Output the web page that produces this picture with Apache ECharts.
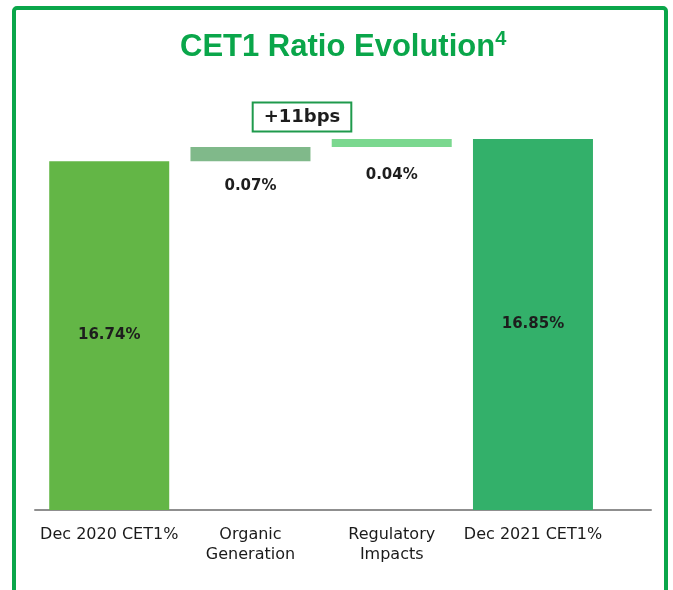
<!DOCTYPE html>
<html>
<head>
<meta charset="utf-8">
<script src="https://cdn.jsdelivr.net/npm/echarts@6/dist/echarts.min.js"></script>
<style>
  html, body { margin: 0; padding: 0; background: #fff; }
  #main { width: 673px; height: 590px; }
</style>
</head>
<body>
<div id="main"></div>
<script>
// waterfall data
var categories = ['Dec 2020 CET1%', 'Organic\nGeneration', 'Regulatory\nImpacts', 'Dec 2021 CET1%'];
var values = [16.74, 0.07, 0.04, 16.85];
var isTotal = [true, false, false, true];
var changeLabel = '+11bps';

var barColors = ['#63b646', '#80b98a', '#7bd88f', '#33b06a'];
var green = '#0aa64a';

// invisible base for the floating bars
var base = [];
var running = 0;
for (var i = 0; i < values.length; i++) {
  if (isTotal[i]) {
    base.push(0);
    running = values[i];
  } else {
    base.push(running);
    running = +(running + values[i]).toFixed(2);
  }
}

var labelDist = [0, 17, 21, 0];
var barData = values.map(function (v, i) {
  return {
    value: v,
    itemStyle: { color: barColors[i] },
    label: isTotal[i] ? { position: 'inside' } : { position: 'bottom', distance: labelDist[i] }
  };
});

var chart = echarts.init(document.getElementById('main'));
chart.setOption({
  animation: false,
  title: {
    text: '{t|CET1 Ratio Evolution}{s|4}',
    left: 175,
    top: 24,
    textStyle: {
      rich: {
        t: { fontFamily: 'Liberation Sans', fontWeight: 'bold', fontSize: 31, color: green, lineHeight: 36 },
        s: { fontFamily: 'Liberation Sans', fontWeight: 'bold', fontSize: 20, color: green, verticalAlign: 'top', lineHeight: 36 }
      }
    }
  },
  graphic: [
    {
      type: 'rect',
      shape: { x: 14, y: 8, width: 652, height: 640, r: 3 },
      style: { fill: 'none', stroke: green, lineWidth: 4 },
      silent: true
    },
    {
      type: 'text',
      x: 302,
      y: 117,
      style: {
        text: changeLabel,
        font: 'bold 18px "DejaVu Sans"',
        fill: '#1d1d1d',
        align: 'center',
        verticalAlign: 'middle',
        padding: [5, 10, 4, 10],
        borderColor: '#1f9a4c',
        borderWidth: 2,
        backgroundColor: '#fff'
      },
      silent: true
    }
  ],
  grid: [
    { left: 38.6, right: 69.4, top: 109, bottom: 80 },
    { left: 35, right: 22, top: 109, bottom: 80 }
  ],
  xAxis: [
    {
      type: 'category',
      gridIndex: 0,
      data: categories,
      axisLine: { show: false },
      axisTick: { show: false },
      axisLabel: {
        interval: 0,
        margin: 15,
        fontFamily: 'DejaVu Sans',
        fontSize: 16,
        lineHeight: 20,
        color: '#1a1a1a'
      }
    },
    {
      type: 'category',
      gridIndex: 1,
      data: categories,
      axisLine: { show: true, lineStyle: { color: '#8f8f8f', width: 2 } },
      axisTick: { show: false },
      axisLabel: { show: false }
    }
  ],
  yAxis: [
    { type: 'value', gridIndex: 0, min: 15, max: 17, show: false },
    { type: 'value', gridIndex: 1, min: 15, max: 17, show: false }
  ],
  series: [
    {
      name: 'base',
      type: 'bar',
      stack: 'w',
      silent: true,
      barWidth: 120,
      itemStyle: { color: 'transparent' },
      data: base
    },
    {
      name: 'CET1',
      type: 'bar',
      stack: 'w',
      barWidth: 120,
      label: {
        show: true,
        fontFamily: 'DejaVu Sans',
        fontWeight: 'bold',
        fontSize: 15,
        color: '#1d1d1d',
        formatter: function (p) { return p.value.toFixed(2) + '%'; }
      },
      data: barData
    }
  ]
});
</script>
</body>
</html>
